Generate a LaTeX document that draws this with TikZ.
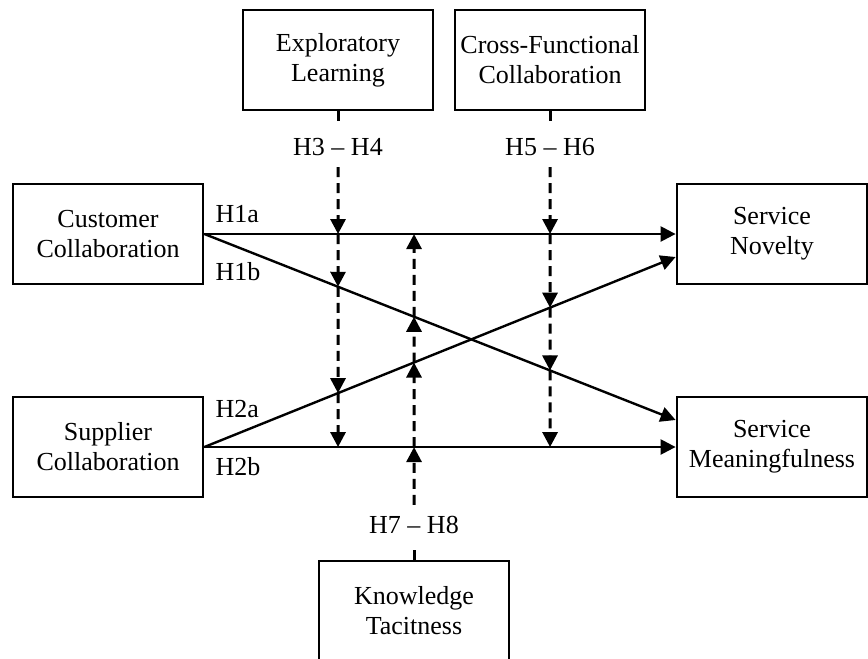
\documentclass[tikz,border=0pt]{standalone}
\usepackage{fontspec}
\setmainfont{Liberation Serif}
\usetikzlibrary{arrows.meta,positioning,calc}
\tikzset{box/.style={draw,line width=2.8pt,minimum width=190pt,minimum height=100pt,align=center,inner sep=2pt},
 lab/.style={minimum height=40pt,inner sep=0pt},
 hyp/.style={anchor=base west,inner sep=0pt},
 flow/.style={-{Triangle[length=15pt,width=15pt]},line width=2.4pt},
 dsh/.style={line width=3pt,dash pattern=on 10pt off 6pt}}
\begin{document}
\begin{tikzpicture}[x=1pt,y=-1pt,font=\fontsize{26}{30}\selectfont]
\useasboundingbox (0,0) rectangle (868,659);
\node[box](el) at(338,60){Exploratory\\Learning};
\node[box](cf) at(550,60){Cross-Functional\\Collaboration};
\node[box](cc) at(108,234){Customer\\Collaboration};
\node[box](sc) at(108,447){Supplier\\Collaboration};
\node[box](sn) at(772,234){Service\\Novelty};
\node[box](sm) at(772,447){Service\\Meaningfulness};
\node[box](kt) at(414,611){Knowledge\\Tacitness};
\node[lab](h34) at(338,147){H3 -- H4};
\node[lab](h56) at(550,147){H5 -- H6};
\node[lab](h78) at(414,525){H7 -- H8};
% ends of the crossing paths
\coordinate(n1) at([yshift=-23pt]sn.west);
\coordinate(m1) at([yshift=27pt]sm.west);
\draw[flow](cc.east)--(sn.west);
\draw[flow](cc.east)--(m1);
\draw[flow](sc.east)--(n1);
\draw[flow](sc.east)--(sm.west);
\node[hyp](t1a) at([xshift=11pt,yshift=12pt]cc.east){H1a};
\node[hyp](t1b) at([xshift=11pt,yshift=-46pt]cc.east){H1b};
\node[hyp](t2a) at([xshift=11pt,yshift=30pt]sc.east){H2a};
\node[hyp](t2b) at([xshift=11pt,yshift=-28pt]sc.east){H2b};
% moderators
\foreach \m/\l in {el/h34,cf/h56,kt/h78}{
 \draw[dsh](\m)--(\l);
 \coordinate(\l-1a) at(intersection of cc.east--sn.west and \m--\l);
 \coordinate(\l-1b) at(intersection of cc.east--m1 and \m--\l);
 \coordinate(\l-2a) at(intersection of sc.east--n1 and \m--\l);
 \coordinate(\l-2b) at(intersection of sc.east--sm.west and \m--\l);
}
\foreach \l/\a/\b/\c/\d in {h34/1a/1b/2a/2b,h56/1a/2a/1b/2b,h78/2b/2a/1b/1a}{
 \draw[flow,dsh](\l)--(\l-\a);
 \draw[flow,dsh](\l-\a)--(\l-\b);
 \draw[flow,dsh](\l-\b)--(\l-\c);
 \draw[flow,dsh](\l-\c)--(\l-\d);
}
\end{tikzpicture}
\end{document}
